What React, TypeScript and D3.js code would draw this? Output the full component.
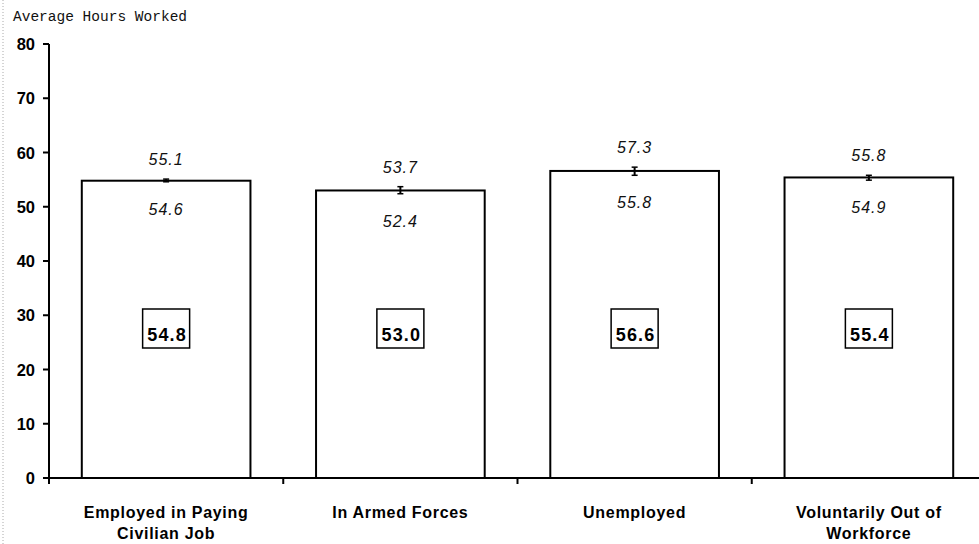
import React from "react";
import * as d3 from "d3";

const categories: string[][] = [
  ["Employed in Paying", "Civilian Job"],
  ["In Armed Forces"],
  ["Unemployed"],
  ["Voluntarily Out of", "Workforce"],
];
const means: number[] = [54.8, 53.0, 56.6, 55.4];
const upper: number[] = [55.1, 53.7, 57.3, 55.8];
const lower: number[] = [54.6, 52.4, 55.8, 54.9];
const yTicks: number[] = [0, 10, 20, 30, 40, 50, 60, 70, 80];
const title = "Average Hours Worked";

const W = 979;
const H = 544;
const x0 = 49;
const x1 = 986;
const y0 = 478;
const yTop = 44;

export default function App() {
  const y = d3.scaleLinear().domain([0, 80]).range([y0, yTop]);
  const x = d3
    .scaleBand<number>()
    .domain(d3.range(categories.length))
    .range([x0, x1])
    .paddingInner(0.28)
    .paddingOuter(0.14);
  const step = x.step();
  const sans = "Liberation Sans, Arial, sans-serif";
  const fmt = d3.format(".1f");

  return (
    <svg
      width={W}
      height={H}
      style={{ position: "fixed", left: 0, top: 0, background: "#fff" }}
    >
      <rect x={0} y={0} width={W} height={H} fill="#fff" />
      <line x1={3} x2={3} y1={0} y2={H} stroke="#aaa" strokeWidth={1} strokeDasharray="1,2" />
      <text x={13} y={21} fontFamily="Liberation Mono, Courier New, monospace" fontSize={14.5} fill="#111">
        {title}
      </text>

      {/* bars */}
      {means.map((m, i) => {
        const bx = x(i)!;
        const bw = x.bandwidth();
        const cx = bx + bw / 2;
        return (
          <g key={i}>
            <rect
              x={bx}
              y={y(m)}
              width={bw}
              height={y0 - y(m)}
              fill="#fff"
              stroke="#000"
              strokeWidth={2}
            />
            <line x1={cx} x2={cx} y1={y(upper[i])} y2={y(lower[i])} stroke="#000" strokeWidth={2} />
            <line x1={cx - 3} x2={cx + 3} y1={y(upper[i])} y2={y(upper[i])} stroke="#000" strokeWidth={1.5} />
            <line x1={cx - 3} x2={cx + 3} y1={y(lower[i])} y2={y(lower[i])} stroke="#000" strokeWidth={1.5} />
            <text
              x={cx}
              y={y(upper[i]) - 14}
              textAnchor="middle"
              fontFamily={sans}
              fontStyle="italic"
              fontSize={16}
              letterSpacing={1}
              fill="#111"
            >
              {fmt(upper[i])}
            </text>
            <text
              x={cx}
              y={y(lower[i]) + 33}
              textAnchor="middle"
              fontFamily={sans}
              fontStyle="italic"
              fontSize={16}
              letterSpacing={1}
              fill="#111"
            >
              {fmt(lower[i])}
            </text>
            <rect x={cx - 23.5} y={309} width={47} height={39} fill="#fff" stroke="#000" strokeWidth={1.5} />
            <text
              x={cx + 1}
              y={341}
              textAnchor="middle"
              fontFamily={sans}
              fontWeight="bold"
              fontSize={18}
              letterSpacing={1.2}
              fill="#000"
            >
              {fmt(m)}
            </text>
          </g>
        );
      })}

      {/* axes */}
      <line x1={x0} x2={x0} y1={yTop} y2={y0 + 6} stroke="#000" strokeWidth={2} />
      <line x1={x0} x2={W} y1={y0} y2={y0} stroke="#000" strokeWidth={2} />
      {yTicks.map((t) => (
        <g key={t}>
          <line x1={x0 - 6} x2={x0} y1={y(t)} y2={y(t)} stroke="#000" strokeWidth={2} />
          <text
            x={35}
            y={y(t) + 6}
            textAnchor="end"
            fontFamily={sans}
            fontWeight="bold"
            fontSize={16.5}
            fill="#000"
          >
            {t}
          </text>
        </g>
      ))}
      {d3.range(1, categories.length).map((i) => (
        <line
          key={i}
          x1={x0 + i * step}
          x2={x0 + i * step}
          y1={y0}
          y2={y0 + 6}
          stroke="#000"
          strokeWidth={2}
        />
      ))}
      {categories.map((lines, i) => {
        const cx = x(i)! + x.bandwidth() / 2;
        return (
          <text
            key={i}
            textAnchor="middle"
            fontFamily={sans}
            fontWeight="bold"
            fontSize={16}
            letterSpacing={0.7}
            fill="#000"
          >
            {lines.map((l, j) => (
              <tspan key={j} x={cx} y={518 + j * 21}>
                {l}
              </tspan>
            ))}
          </text>
        );
      })}
    </svg>
  );
}
